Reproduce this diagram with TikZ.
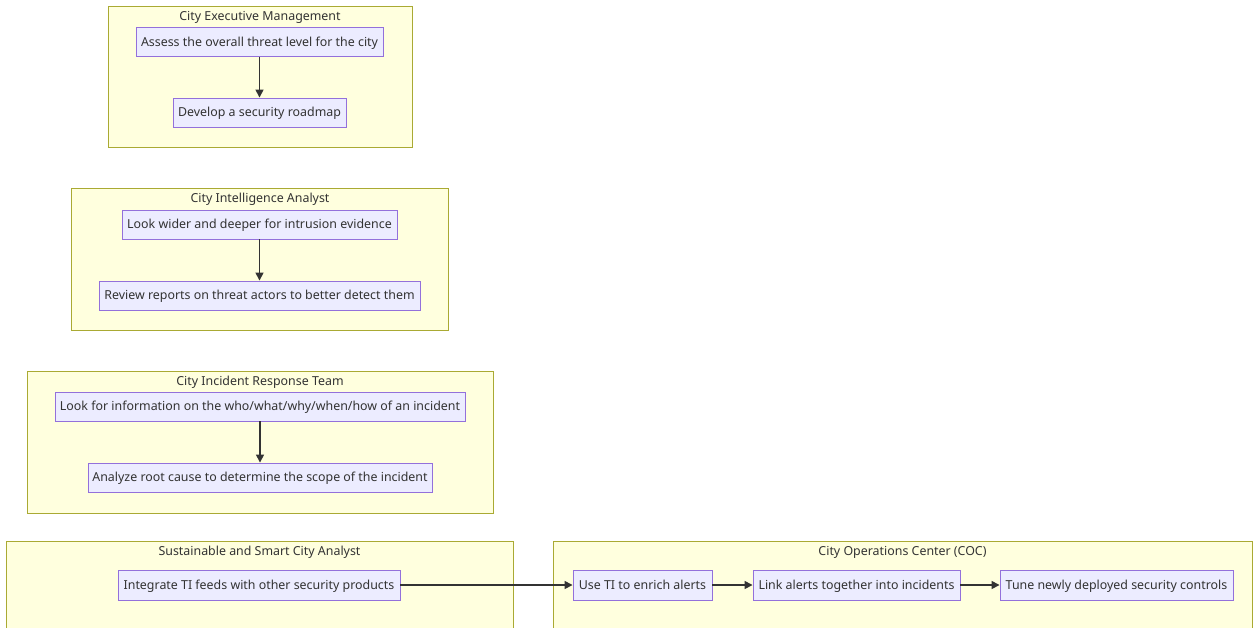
\documentclass[tikz,border=0pt]{standalone}
\usepackage{fontspec}
\setmainfont{Noto Sans}
\usetikzlibrary{arrows.meta}
\definecolor{clfill}{HTML}{FFFFDE}
\definecolor{cldraw}{HTML}{AAAA33}
\definecolor{ndfill}{HTML}{ECECFF}
\definecolor{nddraw}{HTML}{9370DB}
\definecolor{txt}{HTML}{333333}
\tikzset{
  cluster/.style={draw=cldraw, fill=clfill, line width=0.9pt},
  cltitle/.style={text=txt, font=\fontsize{12.4}{14}\selectfont, inner sep=0pt, text height=11pt, text depth=2.5pt},
  nd/.style={draw=nddraw, fill=ndfill, line width=0.9pt, text=txt, font=\fontsize{12.4}{14}\selectfont, inner sep=0pt, text height=11pt, text depth=2.5pt},
  arr/.style={draw=txt, line width=1.5pt, -{Triangle[length=8pt,width=8pt]}},
}
\begin{document}
\begin{tikzpicture}[x=1pt,y=-1pt]
\useasboundingbox (0,0) rectangle (1256,627);
\clip (0,0) rectangle (1256,627);
% clusters
\draw[cluster] (108,6) rectangle (412,147);
\node[cltitle] (t1) at (260,16) {City Executive Management};
\draw[cluster] (71,188) rectangle (448,330);
\node[cltitle] (t2) at (260,198) {City Intelligence Analyst};
\draw[cluster] (27,371) rectangle (493,513);
\node[cltitle] (t3) at (260,381) {City Incident Response Team};
\draw[cluster] (6,541) rectangle (513,640);
\node[cltitle] (t4) at (259.5,551) {Sustainable and Smart City Analyst};
\draw[cluster] (553,541) rectangle (1252,640);
\node[cltitle] (t5) at (902.5,551) {City Operations Center (COC)};
% nodes
\node[nd, minimum width=247, minimum height=29] (a) at (259.5,42) {Assess the overall threat level for the city};
\node[nd, minimum width=173, minimum height=29] (b) at (259.5,112.5) {Develop a security roadmap};
\node[nd, minimum width=275, minimum height=29] (c) at (259.5,224.5) {Look wider and deeper for intrusion evidence};
\node[nd, minimum width=321, minimum height=29] (d) at (259.5,295.5) {Review reports on threat actors to better detect them};
\node[nd, minimum width=410, minimum height=29] (e) at (260,406.5) {Look for information on the who/what/why/when/how of an incident};
\node[nd, minimum width=344, minimum height=29] (f) at (260,477.5) {Analyze root cause to determine the scope of the incident};
\node[nd, minimum width=282, minimum height=30] (g) at (259,585) {Integrate TI feeds with other security products};
\node[nd, minimum width=139, minimum height=30] (h) at (642.5,585) {Use TI to enrich alerts};
\node[nd, minimum width=207, minimum height=30] (i) at (856.5,585) {Link alerts together into incidents};
\node[nd, minimum width=233, minimum height=30] (j) at (1116.5,585) {Tune newly deployed security controls};
% edges
\draw[arr] (a) -- (b);
\draw[arr] (c) -- (d);
\draw[arr] (e) -- (f);
\draw[arr] (g) -- (h);
\draw[arr] (h) -- (i);
\draw[arr] (i) -- (j);
\end{tikzpicture}
\end{document}
